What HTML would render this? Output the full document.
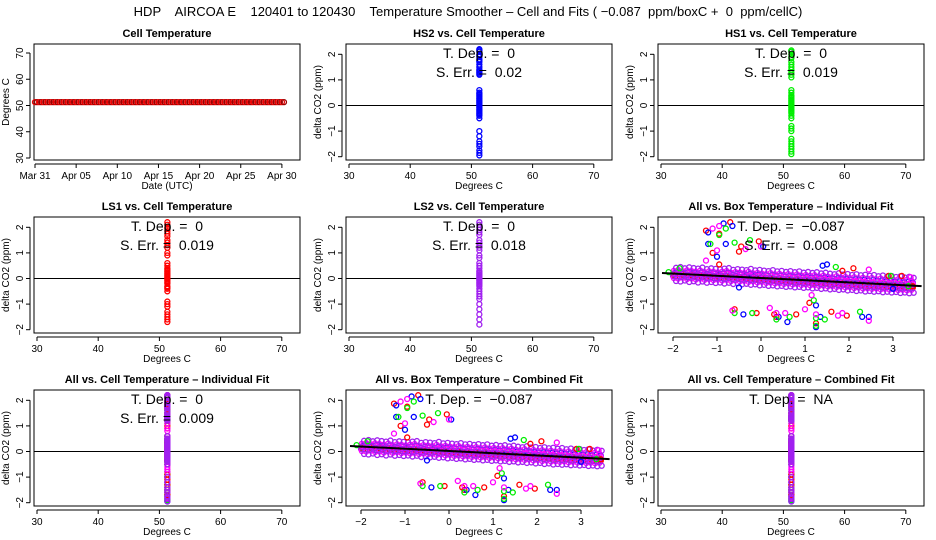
<!DOCTYPE html>
<html><head><meta charset="utf-8"><style>
html,body{margin:0;padding:0;background:#fff}
svg{display:block;font-family:"Liberation Sans",Arial,sans-serif}
svg text{white-space:pre}
</style></head><body>
<svg id="c" width="936" height="540" viewBox="0 0 936 540">
<text x="468" y="16" font-size="13" text-anchor="middle" xml:space="preserve">HDP    AIRCOA E    120401 to 120430    Temperature Smoother – Cell and Fits ( −0.087  ppm/boxC +  0  ppm/cellC)</text>
</svg>
<script>
const cellDays=[0,0.5,1,1.5,2,2.5,3,3.5,4,4.5,5,5.5,6,6.5,7,7.5,8,8.5,9,9.5,10,10.5,11,11.5,12,12.5,13,13.5,14,14.5,15,15.5,16,16.5,17,17.5,18,18.5,19,19.5,20,20.5,21,21.5,22,22.5,23,23.5,24,24.5,25,25.5,26,26.5,27,27.5,28,28.5,29,29.5,30];
const cellTempVal=51.3;
const dateTicks=[0,5,10,15,20,25,30];
const dateLabels=["Mar 31","Apr 05","Apr 10","Apr 15","Apr 20","Apr 25","Apr 30"];
const tempTicks=[30,40,50,60,70];
const deltaTicks=[-2,-1,0,1,2];
const deltaLabels=["−2","−1","0","1","2"];
const boxTicks=[-2,-1,0,1,2,3];
const boxLabels=["−2","−1","0","1","2","3"];
const hs2Y=[2.2,2.15,2.1,2.0,1.95,1.9,1.8,1.75,1.7,1.6,1.5,1.4,1.35,1.3,1.25,1.2,0.6,0.5,0.45,0.4,0.35,0.3,0.25,0.2,0.15,0.1,0.05,0,-0.05,-0.1,-0.15,-0.2,-0.25,-0.3,-0.35,-0.4,-0.5,-1.0,-1.2,-1.4,-1.5,-1.6,-1.75,-1.85,-1.95];
const hs1Y=[2.15,2.1,2.0,1.9,1.85,1.7,1.6,1.5,1.4,1.3,1.2,1.1,0.6,0.5,0.4,0.35,0.3,0.25,0.2,0.15,0.1,0.05,0,-0.05,-0.1,-0.15,-0.2,-0.25,-0.3,-0.4,-0.5,-0.8,-0.9,-1.0,-1.3,-1.4,-1.5,-1.6,-1.7,-1.8,-1.9];
const ls1Y=[2.2,2.1,2.0,1.95,1.85,1.75,1.65,1.5,1.4,1.3,1.2,1.0,0.9,0.6,0.5,0.4,0.35,0.3,0.25,0.2,0.15,0.1,0.05,0,-0.05,-0.1,-0.15,-0.2,-0.3,-0.35,-0.4,-0.5,-0.9,-1.0,-1.1,-1.3,-1.4,-1.5,-1.6,-1.7];
const ls2Y=[2.2,2.1,2.0,1.9,1.8,1.7,1.5,1.4,1.3,1.2,1.1,0.9,0.8,0.6,0.5,0.4,0.3,0.25,0.2,0.15,0.1,0.05,0,-0.05,-0.1,-0.15,-0.2,-0.25,-0.3,-0.4,-0.5,-0.6,-0.7,-0.8,-1.0,-1.2,-1.4,-1.6,-1.8];
const boxRedX=[-1.25,-1.1,-0.95,-0.95,-0.7,-0.5,-0.45,-0.05,2.1,1.85,0.3,0.8,1.1,1.25,1.6,1.95,-0.6,-0.1,0.35,3.2,3.45,2.9];
const boxRedY=[1.87,1.0,0.55,1.75,2.2,1.05,1.25,1.45,0.4,0.3,-1.4,-1.4,-0.95,-1.75,-1.3,-1.45,-1.2,-1.35,-1.5,0.1,-0.3,0.1];
const boxBlueX=[-1.2,-0.85,-0.8,-1.0,-1.2,-0.65,0.05,1.5,0.6,1.25,1.25,1.35,2.3,2.45,-0.4,0.4,-0.5,1.4,3.0];
const boxBlueY=[1.8,2.15,1.35,0.85,1.35,2.05,1.25,0.55,-1.7,-1.9,-1.05,-1.5,-1.5,-1.5,-1.4,-1.5,-0.35,0.5,-0.4];
const boxGreenX=[-1.15,-0.95,-0.8,-0.6,-0.25,1.7,-0.6,-0.2,0.35,0.65,1.2,1.25,1.25,1.45,2.25,-2.1,-1.85,2.95,3.35];
const boxGreenY=[1.35,1.7,1.95,1.4,1.5,0.45,-1.35,-1.35,-1.6,-1.5,-0.85,-1.55,-1.85,-1.6,-1.3,0.25,0.4,0.1,-0.3];
const boxMagX=[-1.25,-1.1,-0.95,-1.0,-0.35,0,-0.65,0.2,0.35,0.55,1.0,1.15,1.25,1.75,1.85,2.45,2.45,3.4];
const boxMagY=[0.7,1.95,2.05,1.1,1.15,1.25,-1.25,-1.15,-1.35,-1.35,-1.2,-0.65,-1.4,-1.45,-1.35,-1.65,0.35,0.05];
const bandX=[-2.0,-1.9,-1.8,-1.7,-1.6,-1.5,-1.4,-1.3,-1.2,-1.1,-1.0,-0.9,-0.8,-0.7,-0.6,-0.5,-0.4,-0.3,-0.2,-0.1,0,0.1,0.2,0.3,0.4,0.5,0.6,0.7,0.8,0.9,1.0,1.1,1.2,1.3,1.4,1.5,1.6,1.7,1.8,1.9,2.0,2.1,2.2,2.3,2.4,2.5,2.6,2.7,2.8,2.9,3.0,3.1,3.2,3.3,3.4];
const bandHi=[0.30,0.33,0.28,0.32,0.29,0.27,0.31,0.25,0.28,0.26,0.24,0.27,0.29,0.22,0.25,0.23,0.21,0.26,0.20,0.22,0.19,0.17,0.21,0.16,0.18,0.14,0.17,0.13,0.16,0.11,0.14,0.10,0.13,0.08,0.11,0.07,0.05,0.09,0.04,0.06,0.02,0.05,0.01,0.03,-0.01,0.02,-0.03,0.00,-0.04,-0.02,-0.06,-0.03,-0.08,-0.05,-0.09];
const bandMid=[0.18,0.16,0.19,0.14,0.17,0.13,0.15,0.12,0.14,0.10,0.12,0.09,0.11,0.08,0.10,0.06,0.08,0.05,0.07,0.03,0.05,0.01,0.03,-0.01,0.01,-0.03,-0.01,-0.05,-0.03,-0.07,-0.05,-0.08,-0.06,-0.10,-0.08,-0.12,-0.10,-0.14,-0.12,-0.16,-0.14,-0.18,-0.16,-0.20,-0.18,-0.22,-0.20,-0.24,-0.22,-0.26,-0.24,-0.28,-0.26,-0.29,-0.28];
const bandLo=[0.02,0.00,0.04,-0.02,0.01,-0.04,0.00,-0.05,-0.02,-0.06,-0.04,-0.08,-0.05,-0.10,-0.07,-0.11,-0.09,-0.13,-0.11,-0.15,-0.13,-0.17,-0.15,-0.19,-0.17,-0.21,-0.19,-0.23,-0.21,-0.25,-0.23,-0.27,-0.25,-0.29,-0.27,-0.31,-0.29,-0.33,-0.31,-0.35,-0.33,-0.37,-0.35,-0.39,-0.37,-0.40,-0.38,-0.42,-0.40,-0.43,-0.41,-0.45,-0.43,-0.46,-0.44];
const fitSlope=-0.087, fitIntercept=0.02;

const NS="http://www.w3.org/2000/svg";
const svg=document.getElementById('c');
const L=[34,346,658],T=[44,217,390],W=266,H=116;
function el(tag,attrs,parent,txt){const e=document.createElementNS(NS,tag);for(const k in attrs)e.setAttribute(k,attrs[k]);if(txt!=null)e.textContent=txt;(parent||svg).appendChild(e);return e;}
function panel(c,r,title,xlab,ylab,name){
  const g=el('g',{},svg);
  
  
  const x0=L[c],y0=T[r];
  const t=el('text',{x:x0+W/2,y:y0-7,'font-size':11,'font-weight':'bold','text-anchor':'middle'},g,title);
  
  
  const xl=el('text',{x:x0+W/2,y:y0+H+29,'font-size':10,'text-anchor':'middle'},g,xlab);
  
  
  const yl=el('text',{x:0,y:0,'font-size':10,'text-anchor':'middle',transform:`translate(${x0-25},${y0+H/2}) rotate(-90)`},g,ylab);
  
  
  return {g,x0,y0};
}
function frame(p){const f=el('rect',{x:p.x0,y:p.y0,width:W,height:H,fill:'none',stroke:'#000','stroke-width':1},p.g);}
function xAxis(p,ticks,labels,sx){
  const ya=p.y0+H+4;
  el('line',{x1:sx(ticks[0]),x2:sx(ticks[ticks.length-1]),y1:ya,y2:ya,stroke:'#000'},p.g);
  ticks.forEach((v,i)=>{const x=sx(v);el('line',{x1:x,x2:x,y1:ya,y2:ya+4,stroke:'#000'},p.g);
    const t=el('text',{x:x,y:ya+15,'font-size':10,'text-anchor':'middle'},p.g,labels[i]);
    
    });
}
function yAxis(p,ticks,labels,sy){
  const xa=p.x0-4;
  el('line',{x1:xa,x2:xa,y1:sy(ticks[0]),y2:sy(ticks[ticks.length-1]),stroke:'#000'},p.g);
  ticks.forEach((v,i)=>{const y=sy(v);el('line',{x1:xa-4,x2:xa,y1:y,y2:y,stroke:'#000'},p.g);
    const t=el('text',{x:0,y:0,'font-size':10,'text-anchor':'middle',transform:`translate(${xa-7},${y}) rotate(-90)`},p.g,labels[i]);
    
    });
}
function pt(g,x,y,col,name){const c=el('circle',{cx:x,cy:y,r:2.5,fill:'none',stroke:col,'stroke-width':1.3},g);}
function note(p,lines){lines.forEach((s,i)=>{const t=el('text',{x:p.x0+W/2,y:p.y0+14+i*19,'font-size':14,'text-anchor':'middle'},p.g,s);});}
const RED='#ff0000',BLUE='#0000ff',GREEN='#00ee00',MAG='#ff00ff',PUR='#a020f0';
const dY=p=>v=>p.y0+61.5-v*25.6;
const tX=p=>v=>p.x0+3+(v-30)*6.12;
const bX=p=>v=>p.x0+15+(v+2)*44;

{const p=panel(0,0,'Cell Temperature','Date (UTC)','Degrees C','cell-temperature-panel');
 const sx=v=>p.x0+1+v*8.23, sy=v=>p.y0+9+(70-v)*2.625;
 frame(p);xAxis(p,dateTicks,dateLabels,sx);yAxis(p,tempTicks,tempTicks.map(String),sy);
 cellDays.forEach(d=>{pt(p.g,sx(d),sy(cellTempVal),'#ee0000','cell-temp-point');pt(p.g,sx(d)+2.05,sy(cellTempVal),'#990000','cell-temp-point');});}

function vpanel(c,r,title,name,sets,lines){
  const p=panel(c,r,title,'Degrees C','delta CO2 (ppm)',name);
  const sx=tX(p),sy=dY(p);
  frame(p);xAxis(p,tempTicks,tempTicks.map(String),sx);yAxis(p,deltaTicks,deltaLabels,sy);
  el('line',{x1:p.x0,x2:p.x0+W,y1:sy(0),y2:sy(0),stroke:'#000'},p.g);
  sets.forEach(([ys,col])=>ys.forEach(v=>pt(p.g,sx(cellTempVal),sy(v),col,'scatter-point')));
  note(p,lines);
}
function bpanel(c,r,title,name,lines){
  const p=panel(c,r,title,'Degrees C','delta CO2 (ppm)',name);
  const sx=bX(p),sy=dY(p);
  frame(p);xAxis(p,boxTicks,boxLabels,sx);yAxis(p,deltaTicks,deltaLabels,sy);
  const n=Math.min(bandX.length,bandHi.length,bandMid.length,bandLo.length);
  const layers=[[bandHi,GREEN,0,4],[bandLo,RED,0,-4],[bandHi,BLUE,0.05,2],[bandLo,RED,0.05,-2],
    [bandHi,MAG,0.02,0],[bandMid,PUR,0,2],[bandMid,MAG,0.05,-2],[bandLo,MAG,0.02,0],[bandMid,PUR,0.03,0],[bandHi,PUR,0.07,-3],[bandLo,PUR,0.07,3]];
  layers.forEach(([ys,col,dx,dy])=>{for(let i=0;i<n;i++)pt(p.g,sx(bandX[i]+dx),sy(ys[i])+dy,col,'band-point');});
  [[boxRedX,boxRedY,RED],[boxBlueX,boxBlueY,BLUE],[boxGreenX,boxGreenY,GREEN],[boxMagX,boxMagY,MAG]].forEach(([xs,ys,col])=>
    xs.forEach((x,i)=>pt(p.g,sx(x),sy(ys[i]),col,'outlier-point')));
  const xa=-2.25,xb=3.65;
  const fl=el('line',{x1:sx(xa),x2:Math.min(sx(xb),p.x0+W),y1:sy(fitIntercept+fitSlope*xa),y2:sy(fitIntercept+fitSlope*xb),stroke:'#000','stroke-width':2},p.g);
  
  
  note(p,lines);
}
vpanel(1,0,'HS2 vs. Cell Temperature','hs2-panel',[[hs2Y,BLUE]],['T. Dep. =  0','S. Err. =  0.02']);
vpanel(2,0,'HS1 vs. Cell Temperature','hs1-panel',[[hs1Y,GREEN]],['T. Dep. =  0','S. Err. =  0.019']);
vpanel(0,1,'LS1 vs. Cell Temperature','ls1-panel',[[ls1Y,RED]],['T. Dep. =  0','S. Err. =  0.019']);
vpanel(1,1,'LS2 vs. Cell Temperature','ls2-panel',[[ls2Y,PUR]],['T. Dep. =  0','S. Err. =  0.018']);
bpanel(2,1,'All vs. Box Temperature – Individual Fit','all-box-individual-panel',['T. Dep. =  −0.087','S. Err. =  0.008']);
vpanel(0,2,'All vs. Cell Temperature – Individual Fit','all-cell-individual-panel',[[hs2Y,BLUE],[hs1Y,GREEN],[ls1Y,RED],[ls2Y,MAG],[hs2Y,PUR]],['T. Dep. =  0','S. Err. =  0.009']);
bpanel(1,2,'All vs. Box Temperature – Combined Fit','all-box-combined-panel',['T. Dep. =  −0.087']);
vpanel(2,2,'All vs. Cell Temperature – Combined Fit','all-cell-combined-panel',[[hs2Y,BLUE],[hs1Y,GREEN],[ls1Y,RED],[ls2Y,MAG],[hs2Y,PUR]],['T. Dep. =  NA']);
</script>
</body></html>
